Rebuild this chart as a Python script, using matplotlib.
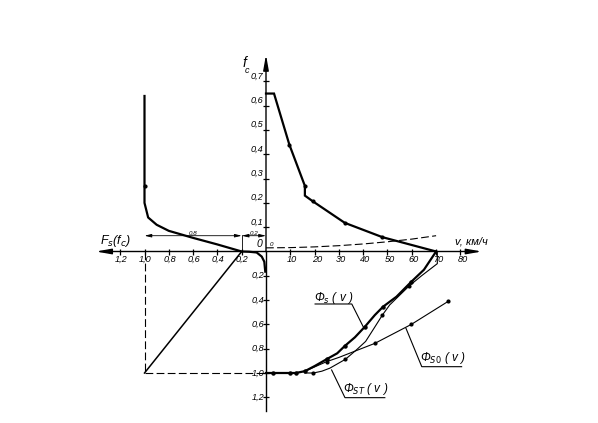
import matplotlib
matplotlib.use('Agg')
import matplotlib.pyplot as plt

plt.rcParams['font.family'] = ['Liberation Sans Narrow', 'Liberation Sans', 'DejaVu Sans']
plt.rcParams['mathtext.fontset'] = 'dejavusans'

# ---------------- data ----------------
# upper right: adhesion coefficient f_c versus speed v
v_fc = [0, 3.3, 9.6, 16.0, 16.0, 19.2, 32.4, 47.9, 70.0]
fc_v = [0.65, 0.65, 0.44, 0.27, 0.23, 0.207, 0.118, 0.059, 0.0]
v_fc_dots = [9.6, 16.0, 19.2, 32.4, 47.9]
fc_v_dots = [0.44, 0.27, 0.207, 0.118, 0.059]

# dashed curve (upper right)
v_f0 = [0, 10, 20, 30, 40, 50, 60, 70]
f0_v = [0.015, 0.016, 0.019, 0.024, 0.031, 0.040, 0.051, 0.065]

# upper left: F_s(f_c)
Fs_curve = [1.0, 1.0, 1.0, 0.97, 0.9, 0.8, 0.6, 0.4, 0.2, 0.14, 0.077, 0.035, 0.014, 0.006]
fc_curve = [0.64, 0.27, 0.20, 0.14, 0.11, 0.085, 0.056, 0.029, 0.0, -0.001, -0.004, -0.021, -0.042, -0.083]
Fs_dot = [1.0]
fc_dot = [0.27]

# lower left construction
Fs_diag = [1.0, 0.2]
Phi_diag = [1.0, 0.0]

# lower right: Phi curves
v_s = [0, 3, 10, 12.2, 16, 20.1, 24.9, 29.3, 32.4, 36.6, 40.7, 44.8, 48.2, 53.7, 59.8, 65.0, 70.0]
Phi_s = [1.0, 1.0, 1.0, 1.0, 0.985, 0.942, 0.887, 0.838, 0.778, 0.706, 0.619, 0.523, 0.454, 0.372, 0.249, 0.15, 0.0]
v_s_dots = [3, 10, 12.2, 16, 24.9, 32.4, 40.7, 48.2, 59.8]
Phi_s_dots = [1.0, 1.0, 1.0, 0.985, 0.887, 0.778, 0.619, 0.454, 0.249]

v_st = [16, 19.5, 23.0, 26.3, 32.7, 37.2, 41.0, 44.0, 47.9, 50.9, 58.9, 64.0, 70.5, 70.5]
Phi_st = [1.0, 1.0, 0.985, 0.96, 0.887, 0.81, 0.74, 0.646, 0.523, 0.44, 0.284, 0.2, 0.1, 0.0]
v_st_dots = [19.5, 32.7, 47.9, 58.9]
Phi_st_dots = [1.0, 0.887, 0.523, 0.284]

v_s0 = [16, 20.0, 24.9, 30.1, 44.8, 59.8, 75.0]
Phi_s0 = [0.985, 0.95, 0.907, 0.871, 0.756, 0.60, 0.41]
v_s0_dots = [24.9, 44.8, 59.8, 75.0]
Phi_s0_dots = [0.907, 0.756, 0.60, 0.41]

# ticks
v_ticks = [10, 20, 30, 40, 50, 60, 70, 80]
v_labels = ['10', '20', '30', '40', '50', '60', '70', '80']
fc_ticks = [0.1, 0.2, 0.3, 0.4, 0.5, 0.6, 0.7]
fc_labels = ['0,1', '0,2', '0,3', '0,4', '0,5', '0,6', '0,7']
Fs_ticks = [0.2, 0.4, 0.6, 0.8, 1.0, 1.2]
Fs_labels = ['0,2', '0,4', '0,6', '0,8', '1,0', '1,2']
Phi_ticks = [0.2, 0.4, 0.6, 0.8, 1.0, 1.2]
Phi_labels = ['0,2', '0,4', '0,6', '0,8', '1,0', '1,2']

# ---------------- layout ----------------
W, H = 598, 423
X0, Y0 = 266, 251.5   # origin (pixels from top-left)
U = 24.3              # pixels per grid step

fig = plt.figure(figsize=(W / 100, H / 100), dpi=100)
fig.patch.set_facecolor('white')


def make_ax(sx, sy, flip_x, flip_y):
    ax = fig.add_axes([0, 0, 1, 1])
    ax.patch.set_visible(False)
    ax.axis('off')
    if flip_x:
        ax.set_xlim(X0 / U * sx, -(W - X0) / U * sx)
    else:
        ax.set_xlim(-X0 / U * sx, (W - X0) / U * sx)
    if flip_y:
        ax.set_ylim((H - Y0) / U * sy, -Y0 / U * sy)
    else:
        ax.set_ylim(-(H - Y0) / U * sy, Y0 / U * sy)
    return ax


ax_vf = make_ax(10, 0.1, False, False)   # v  / f_c
ax_sf = make_ax(0.2, 0.1, True, False)   # Fs / f_c
ax_vp = make_ax(10, 0.2, False, True)    # v  / Phi
ax_sp = make_ax(0.2, 0.2, True, True)    # Fs / Phi

K = 'black'
THICK = 1.6
THIN = 0.8
AXW = 1.0
TF = dict(style='italic', color=K)
arrow_big = dict(arrowstyle='-|>,head_length=0.9,head_width=0.16', lw=AXW, color=K,
                 shrinkA=0, shrinkB=0, mutation_scale=10)

# ---------------- axes ----------------
ax_vf.annotate('', xy=(88.8, 0), xytext=(0, 0), arrowprops=arrow_big)
ax_sf.annotate('', xy=(1.40, 0), xytext=(0, 0), arrowprops=arrow_big)
ax_vf.annotate('', xy=(0, 0.81), xytext=(0, 0), arrowprops=arrow_big)
ax_vp.plot([0, 0], [0, 1.31], color=K, lw=AXW)

# ticks
ax_vf.plot(v_ticks, [0] * len(v_ticks), ls='none', marker='|', ms=4.5, mew=0.9, color=K)
ax_sf.plot(Fs_ticks, [0] * len(Fs_ticks), ls='none', marker='|', ms=4.5, mew=0.9, color=K)
ax_vf.plot([0] * len(fc_ticks), fc_ticks, ls='none', marker='_', ms=4.5, mew=0.9, color=K)
ax_vp.plot([0] * len(Phi_ticks), Phi_ticks, ls='none', marker='_', ms=4.5, mew=0.9, color=K)

fs_tick = 6.6
for t, lab in zip(v_ticks, v_labels):
    ax_vf.annotate(lab, xy=(t, 0), xytext=(1.5, -2.5), textcoords='offset points',
                   ha='center', va='top', fontsize=fs_tick, **TF)
for t, lab in zip(Fs_ticks, Fs_labels):
    ax_sf.annotate(lab, xy=(t, 0), xytext=(0.5, -2.5), textcoords='offset points',
                   ha='center', va='top', fontsize=fs_tick, **TF)
for t, lab in zip(fc_ticks, fc_labels):
    ax_vf.annotate(lab, xy=(0, t), xytext=(-2, 0.5), textcoords='offset points',
                   ha='right', va='bottom', fontsize=fs_tick, **TF)
for t, lab in zip(Phi_ticks, Phi_labels):
    ax_vp.annotate(lab, xy=(0, t), xytext=(-1.2, 0), textcoords='offset points',
                   ha='right', va='center', fontsize=fs_tick, **TF)

ax_vf.annotate('0', xy=(0, 0), xytext=(-3, 2), textcoords='offset points',
               ha='right', va='bottom', fontsize=7.5, **TF)
ax_vf.annotate('0', xy=(0, 0), xytext=(2.5, 3), textcoords='offset points',
               ha='left', va='bottom', fontsize=4.5, **TF)

# axis titles
ax_vf.text(-8.9, 0.775, 'f', fontsize=10, ha='center', va='center', **TF)
ax_vf.text(-7.7, 0.745, 'c', fontsize=6.5, ha='center', va='center', **TF)
ax_sf.text(1.24, 0.043, r'F$_s$(f$_c$)', fontsize=9, ha='center', va='center', **TF)
ax_vf.text(84.6, 0.04, 'v, км/ч', fontsize=8, ha='center', va='center', **TF)

# ---------------- upper right ----------------
ax_vf.plot(v_fc, fc_v, color=K, lw=THICK, solid_joinstyle='miter')
ax_vf.plot(v_fc_dots, fc_v_dots, ls='none', marker='o', ms=2, color=K)
ax_vf.plot(v_f0, f0_v, color=K, lw=THIN, ls=(0, (7, 3)))

# ---------------- upper left ----------------
ax_sf.plot(Fs_curve, fc_curve, color=K, lw=THICK)
ax_sf.plot(Fs_dot, fc_dot, ls='none', marker='o', ms=2, color=K)

dim_y = 0.065
arrow_dim = dict(arrowstyle='<|-|>,head_length=0.5,head_width=0.12', lw=0.6, color=K,
                 shrinkA=0, shrinkB=0, mutation_scale=8)
ax_sf.annotate('', xy=(1.0, dim_y), xytext=(0.2, dim_y), arrowprops=arrow_dim)
ax_sf.annotate('', xy=(0.2, dim_y), xytext=(0.0, dim_y), arrowprops=arrow_dim)
ax_sf.plot([0.2, 0.2], [0.0, dim_y + 0.004], color=K, lw=0.6)
ax_sf.text(0.6, dim_y + 0.003, '0,8', fontsize=4.5, ha='center', va='bottom', **TF)
ax_sf.text(0.1, dim_y + 0.003, '0,2', fontsize=4.5, ha='center', va='bottom', **TF)

# ---------------- lower left ----------------
ax_sp.plot(Fs_diag, Phi_diag, color=K, lw=1.1)
ax_sp.plot([1.0, 1.0], [0.0, 1.0], color=K, lw=THIN, ls=(0, (7, 3)))
ax_sp.plot([1.0, 0.0], [1.0, 1.0], color=K, lw=THIN, ls=(0, (7, 3)))

# ---------------- lower right ----------------
ax_vp.plot(v_s, Phi_s, color=K, lw=THICK)
ax_vp.plot(v_s_dots, Phi_s_dots, ls='none', marker='o', ms=2.2, color=K)
ax_vp.plot(v_st, Phi_st, color=K, lw=THIN)
ax_vp.plot(v_st_dots, Phi_st_dots, ls='none', marker='o', ms=2, color=K)
ax_vp.plot(v_s0, Phi_s0, color=K, lw=THIN)
ax_vp.plot(v_s0_dots, Phi_s0_dots, ls='none', marker='o', ms=2, color=K)

# labels with leaders
ax_vp.plot([40.0, 35.3, 20.2], [0.619, 0.432, 0.432], color=K, lw=0.8)
ax_vp.text(27.7, 0.383, r'Φ$_{s}$ ( v )', fontsize=8.5, ha='center', va='center', **TF)

ax_vp.plot([57.6, 64.1, 80.5], [0.632, 0.948, 0.948], color=K, lw=0.8)
ax_vp.text(72.6, 0.873, r'Φ$_{\mathit{S0}}$ ( v )', fontsize=8.5, ha='center', va='center', **TF)

ax_vp.plot([27.0, 32.5, 48.9], [0.975, 1.203, 1.203], color=K, lw=0.8)
ax_vp.text(41.0, 1.133, r'Φ$_{\mathit{ST}}$ ( v )', fontsize=8.5, ha='center', va='center', **TF)

fig.savefig('out.png', dpi=100, facecolor='white')
